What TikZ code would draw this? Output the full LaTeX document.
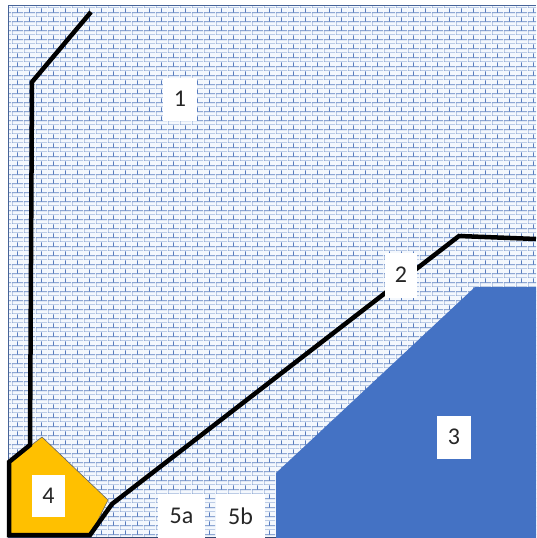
\documentclass[tikz,border=0pt]{standalone}
\usepackage{fontspec}
\setmainfont{Carlito}
\usetikzlibrary{patterns.meta}
\definecolor{mortar}{RGB}{88,124,190}
\definecolor{brickbg}{RGB}{244,248,253}
\definecolor{fillthree}{RGB}{68,114,196}
\definecolor{fillfour}{RGB}{255,192,0}
\tikzdeclarepattern{
  name=mybricks,
  type=uncolored,
  bounding box={(0pt,0pt) and (12pt,8.8pt)},
  tile size={(12pt,8.8pt)},
  code={
    \draw[line width=0.9pt] (0pt,0pt) -- (12pt,0pt);
    \draw[line width=0.9pt] (0pt,4.4pt) -- (12pt,4.4pt);
    \draw[line width=0.9pt] (0pt,0pt) -- (0pt,4.4pt);
    \draw[line width=0.9pt] (6pt,4.4pt) -- (6pt,8.8pt);
  }
}
\tikzset{
  lbl/.style={fill=white, inner sep=0pt, minimum width=34pt, minimum height=43pt, font=\fontsize{24}{26}\selectfont, text=black!85},
  thickline/.style={line width=4.5pt, black, line join=miter},
}
\begin{document}
\begin{tikzpicture}[x=1pt,y=-1pt]
\useasboundingbox (0,0) rectangle (536,538);
% background frame with bricks
\fill[white] (0,0) rectangle (536,538);
\fill[brickbg] (8,5) rectangle (536,538);
\fill[pattern={mybricks}, pattern color=mortar] (8,5) rectangle (536,538);
\draw[mortar!80!black, line width=0.8pt] (8,538) -- (8,5) -- (536,5);
\draw[mortar!60!black, line width=1pt] (8,537) -- (536,537);
% region 3
\fill[fillthree] (276,538) -- (276,473) -- (475,287) -- (536,287) -- (536,538) -- cycle;
% region 4
\draw[fill=fillfour, draw=black!60, line width=0.6pt] (42,437) -- (108,500) -- (90,536) -- (8,536) -- (8,463) -- cycle;
% coordinates for boundary lines
\coordinate (p1) at (91,12);
\coordinate (p2) at (32,82);
\coordinate (p3) at (30,445);
\coordinate (p4) at (9,462);
\coordinate (p5) at (9,535);
\coordinate (p6) at (90,535);
\coordinate (p7) at (112,504);
\coordinate (p8) at (459,236);
\coordinate (p9) at (536,239);
\draw[thickline] (p1) -- (p2) -- (p3) -- (p4) -- (p5) -- (p6) -- (p7) -- (p8) -- (p9);
% labels
\node[lbl] (l1) at (180,99) {1};
\node[lbl, minimum width=32pt, minimum height=45pt] (l2) at (401,275) {2};
\node[lbl] (l3) at (454,437) {3};
\node[lbl, minimum width=33pt, minimum height=42pt] (l4) at (48.5,496) {4};
\node[lbl, minimum width=47pt, minimum height=44pt] (l5a) at (181.5,516) {5a};
\node[lbl, minimum width=49pt, minimum height=44pt] (l5b) at (240.5,516) {5b};
\end{tikzpicture}
\end{document}
